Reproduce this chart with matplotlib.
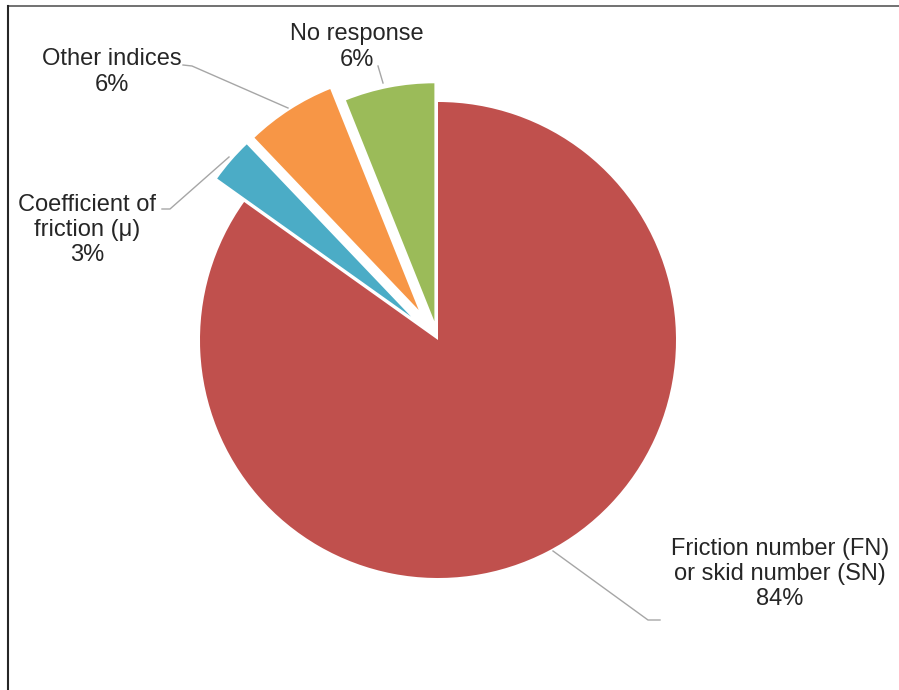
import matplotlib.pyplot as plt
from matplotlib.lines import Line2D

# share of responses by friction measurement type
categories = ["Friction number (FN)\nor skid number (SN)", "Coefficient of\nfriction (\u03bc)",
              "Other indices", "No response"]
shares = [84, 3, 6, 6]
colors = ["#C0504D", "#4BACC6", "#F79646", "#9BBB59"]
explode = [0, 0.15, 0.15, 0.08]

W, H = 899, 690
CX, CY, R = 438, 340, 238  # pie centre and radius in pixels


def px(x, y):
    # pixel position (origin top-left) -> pie units
    return (x - CX) / R, (CY - y) / R


plt.rcParams["font.family"] = ["Liberation Sans", "DejaVu Sans"]

fig = plt.figure(figsize=(W / 100, H / 100), dpi=100)
ax = fig.add_axes([0, 0, 1, 1])

ax.pie(shares, colors=colors, explode=explode, startangle=90, counterclock=False,
       radius=1, wedgeprops=dict(linewidth=0))
ax.set_xlim(-CX / R, (W - CX) / R)
ax.set_ylim((CY - H) / R, CY / R)
ax.set_aspect("equal")
ax.axis("off")

# data labels with leader lines
label_pos = [(780, 574), (87, 230), (112, 72), (357, 47)]
leaders = [
    [(553, 551), (648, 620), (660, 620)],
    [(162, 209), (170, 209), (229, 157)],
    [(183, 65), (192, 66), (288, 108)],
    [(378, 66), (383, 83)],
]
for name, val, pos, pts in zip(categories, shares, label_pos, leaders):
    ax.text(*px(*pos), f"{name}\n{val}%", ha="center", va="center", fontsize=17,
            color="#262626", linespacing=1.18)
    xy = [px(*p) for p in pts]
    ax.plot([p[0] for p in xy], [p[1] for p in xy], color="#A6A6A6", lw=1)

# chart frame, clipped on the right and bottom
fig.add_artist(Line2D([8 / W, 1], [1 - 6 / H, 1 - 6 / H], color="#595959", lw=1.2))
fig.add_artist(Line2D([8 / W, 8 / W], [0, 1 - 6 / H], color="#262626", lw=1.5))

fig.savefig("out.png", dpi=100, facecolor="white")
